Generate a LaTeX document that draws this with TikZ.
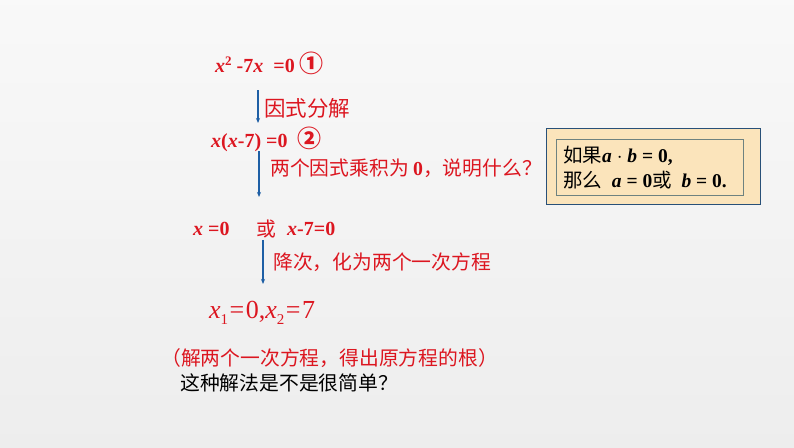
\documentclass[tikz,border=0pt]{standalone}
\usepackage{fontspec}
\setmainfont{Liberation Serif}
\newfontfamily\cjk{Noto Sans CJK SC}
\usetikzlibrary{arrows.meta}
\definecolor{myred}{RGB}{220,22,32}
\definecolor{myblue}{RGB}{30,95,165}
\definecolor{boxfill}{RGB}{251,228,187}
\definecolor{boxline}{RGB}{40,80,120}
\definecolor{innerline}{RGB}{110,130,128}
\tikzset{
  eq/.style={inner sep=0pt, anchor=west, text=myred, font=\fontsize{20}{24}\selectfont\bfseries},
  cn/.style={inner sep=0pt, anchor=west, text=myred, font=\fontsize{19.8}{24}\selectfont\cjk},
  flow/.style={draw=myblue, line width=1.3pt, -{Stealth[length=5pt,width=4pt]}},
}
\newcommand{\bx}{\textit{x}}
\newcommand{\circnum}[1]{{\cjk\fontsize{24}{26}\selectfont\bfseries #1}}
\newcommand{\subnum}[1]{\raisebox{-6pt}{\fontsize{15}{16}\selectfont #1}}
\begin{document}
\begin{tikzpicture}[x=1pt,y=-1pt]
\shade[top color=gray!5, bottom color=gray!14] (0,0) rectangle (794,447);
\useasboundingbox (0,0) rectangle (794,447);
% equations
\node[eq] (t1) at (215,63) {\bx\raisebox{7pt}{\fontsize{13}{14}\selectfont 2} -7\bx\ \ =0 \circnum{①}};
\coordinate (a1s) at (258,90);
\coordinate (a1e) at (258,123);
\draw[flow] (a1s) -- (a1e);
\node[cn, font=\fontsize{21.5}{24}\selectfont\cjk] (l1) at (264,108) {因式分解};
\node[eq] (t2) at (211,139) {\bx(\bx-7) =0 \ \circnum{②}};
\coordinate (a2s) at (259,151);
\coordinate (a2e) at (259,197);
\draw[flow] (a2s) -- (a2e);
\node[cn] (l2) at (270,168) {两个因式乘积为 {\rmfamily\bfseries 0}，说明什么？};
\node[eq] (t3a) at (193,229) {\bx\ =0};
\node[cn] (t3b) at (256,229) {或};
\node[eq] (t3c) at (287,229) {\bx-7=0};
\coordinate (a3s) at (263,240);
\coordinate (a3e) at (263,284);
\draw[flow] (a3s) -- (a3e);
\node[cn] (l3) at (273,262) {降次，化为两个一次方程};
\node[inner sep=0pt, anchor=west, text=myred, font=\fontsize{26}{28}\selectfont] (t4) at (209,313)
  {\textit{x}\subnum{1}\kern1.5pt=\kern1.5pt0,\textit{x}\subnum{2}\kern1.5pt=\kern1.5pt7};
\node[cn] (t5) at (161,358) {（解两个一次方程，得出原方程的根）};
\node[cn, text=black] (t6) at (180,383) {这种解法是不是很简单？};
% box
\node[draw=boxline, line width=1pt, fill=boxfill, minimum width=214pt, minimum height=76pt, anchor=north west, inner sep=0pt] (outer) at (546,128) {};
\node[draw=innerline, line width=0.8pt, minimum width=187pt, minimum height=56pt, anchor=north west, inner sep=0pt] (inner) at (556,139) {};
\node[inner sep=0pt, anchor=west, font=\fontsize{19.5}{22}\selectfont] (b1) at (563,156)
  {{\cjk 如果}\textbf{\textit{a}} $\cdot$ \textbf{\textit{b}} \textbf{= 0,}};
\node[inner sep=0pt, anchor=west, font=\fontsize{19.5}{22}\selectfont] (b2) at (563,180)
  {{\cjk 那么}\ \ \textbf{\textit{a}} \textbf{= 0}{\cjk 或}\ \ \textbf{\textit{b}} \textbf{= 0.}};
\end{tikzpicture}
\end{document}
